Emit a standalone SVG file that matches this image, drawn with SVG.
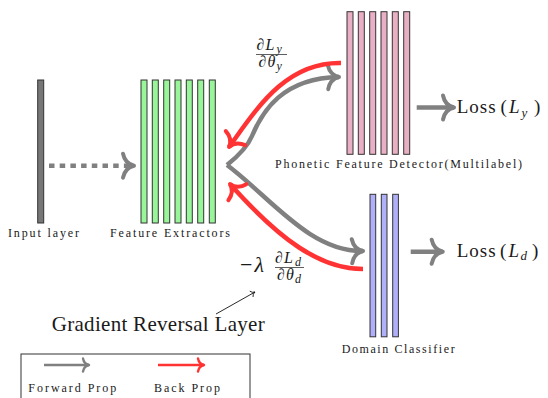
<svg xmlns="http://www.w3.org/2000/svg" width="548" height="398" viewBox="0 0 548 398">
<style>
text{font-family:"Liberation Serif","DejaVu Serif",serif;fill:#1a1a1a}
.sm{font-size:12px}
.it{font-style:italic}
.bar{stroke:#333;stroke-width:1}
.g{fill:#99f599}
.p{fill:#e9afc4}
.b{fill:#b0b0fa}
.fw{fill:none;stroke:#808080;stroke-width:4.5}
.bk{fill:none;stroke:#ff3333;stroke-width:4.5}
</style>
<defs>
<marker id="ag" markerUnits="userSpaceOnUse" viewBox="-16 -16 20 32" markerWidth="20" markerHeight="32" refX="0" refY="0" orient="auto" overflow="visible">
<path d="M-11,-12 Q-9,-2 0,0 Q-9,2 -11,12" fill="none" stroke="#808080" stroke-width="4" stroke-linecap="round" stroke-linejoin="round"/>
</marker>
<marker id="ar" markerUnits="userSpaceOnUse" viewBox="-16 -16 20 32" markerWidth="20" markerHeight="32" refX="0" refY="0" orient="auto" overflow="visible">
<path d="M-11,-12 Q-9,-2 0,0 Q-9,2 -11,12" fill="none" stroke="#ff3333" stroke-width="4" stroke-linecap="round" stroke-linejoin="round"/>
</marker>
<marker id="sg" markerUnits="userSpaceOnUse" viewBox="-10 -10 12 20" markerWidth="12" markerHeight="20" refX="0" refY="0" orient="auto" overflow="visible">
<path d="M-6,-6.5 Q-5,-1 0,0 Q-5,1 -6,6.5" fill="none" stroke="#808080" stroke-width="2.4" stroke-linecap="round" stroke-linejoin="round"/>
</marker>
<marker id="sr" markerUnits="userSpaceOnUse" viewBox="-10 -10 12 20" markerWidth="12" markerHeight="20" refX="0" refY="0" orient="auto" overflow="visible">
<path d="M-6,-6.5 Q-5,-1 0,0 Q-5,1 -6,6.5" fill="none" stroke="#ff3333" stroke-width="2.4" stroke-linecap="round" stroke-linejoin="round"/>
</marker>
<marker id="tk" markerUnits="userSpaceOnUse" viewBox="-6 -5 8 10" markerWidth="8" markerHeight="10" refX="0" refY="0" orient="auto" overflow="visible">
<path d="M-4,-3 Q-3,-0.5 0,0 Q-3,0.5 -4,3" fill="none" stroke="#111" stroke-width="0.8" stroke-linecap="round"/>
</marker>
</defs>

<g id="input-layer">
<rect x="37.7" y="80" width="6" height="143" fill="#777" class="bar"/>
<text class="sm" x="8" y="237" textLength="71" lengthAdjust="spacing">Input layer</text>
</g>

<g id="feature-extractors">
<rect class="bar g" x="141" y="80" width="6" height="143"/>
<rect class="bar g" x="152.3" y="80" width="6" height="143"/>
<rect class="bar g" x="163.7" y="80" width="6" height="143"/>
<rect class="bar g" x="175" y="80" width="6" height="143"/>
<rect class="bar g" x="186.3" y="80" width="6" height="143"/>
<rect class="bar g" x="197.7" y="80" width="6" height="143"/>
<rect class="bar g" x="209.3" y="80" width="6" height="143"/>
<text class="sm" x="110" y="237" textLength="120" lengthAdjust="spacing">Feature Extractors</text>
</g>

<g id="phonetic-detector">
<rect class="bar p" x="347" y="11.7" width="6" height="142.6"/>
<rect class="bar p" x="358.3" y="11.7" width="6" height="142.6"/>
<rect class="bar p" x="369.7" y="11.7" width="6" height="142.6"/>
<rect class="bar p" x="381" y="11.7" width="6" height="142.6"/>
<rect class="bar p" x="392.3" y="11.7" width="6" height="142.6"/>
<rect class="bar p" x="403.7" y="11.7" width="6" height="142.6"/>
<text class="sm" x="275" y="168" textLength="247" lengthAdjust="spacing">Phonetic Feature Detector(Multilabel)</text>
</g>

<g id="domain-classifier">
<rect class="bar b" x="370" y="194.3" width="5.7" height="142.5"/>
<rect class="bar b" x="381.3" y="194.3" width="5.7" height="142.5"/>
<rect class="bar b" x="392.7" y="194.3" width="5.7" height="142.5"/>
<text class="sm" x="341.7" y="352.5" textLength="113" lengthAdjust="spacing">Domain Classifier</text>
</g>

<g id="loss-y">
<text style="font-size:19px" y="112.5"><tspan x="456.7" textLength="39" lengthAdjust="spacing">Loss</tspan><tspan x="500.5">(</tspan><tspan x="509" class="it">L</tspan><tspan x="521.5" dy="4" class="it" style="font-size:13px">y</tspan><tspan x="534" dy="-4">)</tspan></text>
</g>

<g id="loss-d">
<text style="font-size:19px" y="256.5"><tspan x="456.7" textLength="39" lengthAdjust="spacing">Loss</tspan><tspan x="500">(</tspan><tspan x="508.5" class="it">L</tspan><tspan x="520.5" dy="3" class="it" style="font-size:13px">d</tspan><tspan x="532" dy="-3">)</tspan></text>
</g>

<g id="connectors">
<path class="fw" d="M49,165.7 L134,165.7" stroke-dasharray="5.5 5.2" marker-end="url(#ag)"/>
<path class="fw" d="M227,165 C237,157 247,148 252,136 C262,112 282,78 339,77" marker-end="url(#ag)"/>
<path class="fw" d="M227,165 C270,197 310,252 363,251" marker-end="url(#ag)"/>
<path class="bk" d="M341,63 C285,62 256,110 229,147" marker-end="url(#ar)"/>
<path class="bk" d="M363,269 C320,269 280,240 230,184" marker-end="url(#ar)"/>
<path class="fw" d="M416.7,107.5 L454,107.5" marker-end="url(#ag)"/>
<path class="fw" d="M410.7,251.7 L442.7,251.7" marker-end="url(#ag)"/>
<path d="M216,314 L255,292" fill="none" stroke="#111" stroke-width="0.9" marker-end="url(#tk)"/>
</g>

<g id="gradient-labels">
<text style="font-size:16px" y="50"><tspan x="256.5">∂</tspan><tspan x="265.5" class="it">L</tspan><tspan x="276.5" dy="3" class="it" style="font-size:12px">y</tspan></text>
<line x1="256" y1="54.5" x2="287" y2="54.5" stroke="#1a1a1a" stroke-width="0.7"/>
<text style="font-size:16px" y="67"><tspan x="258.5">∂</tspan><tspan x="267.5" class="it">θ</tspan><tspan x="276.5" dy="3" class="it" style="font-size:12px">y</tspan></text>

<text style="font-size:22px" y="272"><tspan x="240">−</tspan><tspan x="254.5" class="it">λ</tspan></text>
<text style="font-size:16px" y="263"><tspan x="275">∂</tspan><tspan x="284" class="it">L</tspan><tspan x="295" dy="3" class="it" style="font-size:12px">d</tspan></text>
<line x1="275" y1="267.5" x2="304" y2="267.5" stroke="#1a1a1a" stroke-width="0.7"/>
<text style="font-size:16px" y="279.5"><tspan x="277">∂</tspan><tspan x="286" class="it">θ</tspan><tspan x="295" dy="3" class="it" style="font-size:12px">d</tspan></text>

<text style="font-size:21px" x="51.7" y="331" textLength="213" lengthAdjust="spacing">Gradient Reversal Layer</text>
</g>

<g id="legend">
<rect x="21" y="354" width="229" height="60" fill="none" stroke="#333" stroke-width="1"/>
<path d="M44,365 L89,365" fill="none" stroke="#808080" stroke-width="2.6" marker-end="url(#sg)"/>
<path d="M158,365 L204,365" fill="none" stroke="#ff3333" stroke-width="2.6" marker-end="url(#sr)"/>
<text class="sm" x="28.3" y="392" textLength="88" lengthAdjust="spacing">Forward Prop</text>
<text class="sm" x="154" y="392" textLength="66" lengthAdjust="spacing">Back Prop</text>
</g>
</svg>
